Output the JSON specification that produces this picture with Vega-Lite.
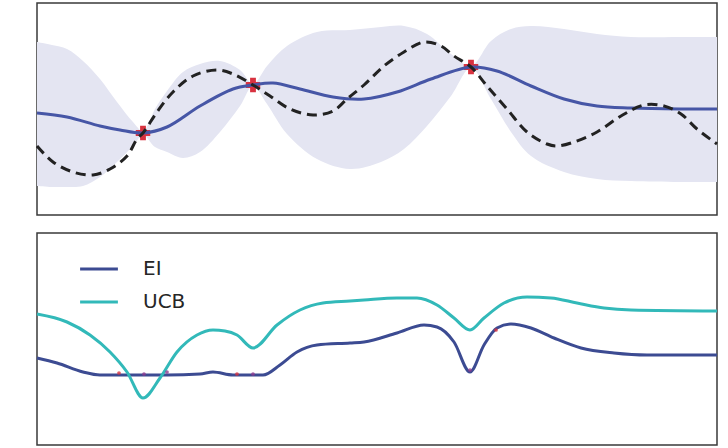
{
  "$schema": "https://vega.github.io/schema/vega-lite/v6.json",
  "padding": {"left": 30, "top": 2, "right": 8, "bottom": 2},
  "background": "white",
  "config": {
    "view": {"stroke": "#3a3a3a", "strokeWidth": 1.5},
    "font": "DejaVu Sans"
  },
  "spacing": 16,
  "datasets": {
    "band": [
      {"x": 0, "lo": 29, "hi": 173}, {"x": 15, "lo": 28, "hi": 170}, {"x": 30, "lo": 28, "hi": 166},
      {"x": 46, "lo": 29, "hi": 154}, {"x": 63, "lo": 38, "hi": 136}, {"x": 80, "lo": 53, "hi": 113},
      {"x": 96, "lo": 69, "hi": 93}, {"x": 106, "lo": 80, "hi": 84}, {"x": 118, "lo": 68, "hi": 106},
      {"x": 130, "lo": 63, "hi": 124}, {"x": 146, "lo": 57, "hi": 143}, {"x": 163, "lo": 63, "hi": 151},
      {"x": 183, "lo": 83, "hi": 154}, {"x": 203, "lo": 109, "hi": 145}, {"x": 216, "lo": 129, "hi": 131},
      {"x": 230, "lo": 111, "hi": 149}, {"x": 250, "lo": 81, "hi": 169}, {"x": 280, "lo": 56, "hi": 183},
      {"x": 313, "lo": 46, "hi": 185}, {"x": 344, "lo": 53, "hi": 188}, {"x": 367, "lo": 66, "hi": 189},
      {"x": 390, "lo": 89, "hi": 181}, {"x": 414, "lo": 119, "hi": 161}, {"x": 434, "lo": 147, "hi": 149},
      {"x": 454, "lo": 116, "hi": 174}, {"x": 474, "lo": 83, "hi": 186}, {"x": 494, "lo": 59, "hi": 189},
      {"x": 527, "lo": 43, "hi": 186}, {"x": 560, "lo": 36, "hi": 181}, {"x": 594, "lo": 34, "hi": 178},
      {"x": 643, "lo": 33, "hi": 178}, {"x": 680, "lo": 33, "hi": 178}
    ],
    "mean": [
      {"x": 0, "y": 102}, {"x": 30, "y": 98}, {"x": 63, "y": 89}, {"x": 83, "y": 85}, {"x": 106, "y": 82},
      {"x": 130, "y": 88}, {"x": 163, "y": 109}, {"x": 196, "y": 126}, {"x": 216, "y": 130}, {"x": 236, "y": 132},
      {"x": 263, "y": 126}, {"x": 296, "y": 118}, {"x": 327, "y": 116}, {"x": 360, "y": 123}, {"x": 394, "y": 136},
      {"x": 434, "y": 148}, {"x": 460, "y": 144}, {"x": 494, "y": 129}, {"x": 527, "y": 116}, {"x": 560, "y": 109},
      {"x": 594, "y": 107}, {"x": 643, "y": 106}, {"x": 680, "y": 106}
    ],
    "truth": [
      {"x": 0, "y": 69}, {"x": 16, "y": 53}, {"x": 36, "y": 43}, {"x": 56, "y": 40}, {"x": 73, "y": 46},
      {"x": 90, "y": 59}, {"x": 100, "y": 76}, {"x": 106, "y": 82}, {"x": 120, "y": 103}, {"x": 136, "y": 123},
      {"x": 156, "y": 139}, {"x": 180, "y": 145}, {"x": 196, "y": 141}, {"x": 216, "y": 130}, {"x": 233, "y": 119},
      {"x": 253, "y": 106}, {"x": 276, "y": 100}, {"x": 296, "y": 104}, {"x": 310, "y": 116}, {"x": 327, "y": 130},
      {"x": 347, "y": 149}, {"x": 367, "y": 163}, {"x": 387, "y": 173}, {"x": 404, "y": 169}, {"x": 417, "y": 159},
      {"x": 434, "y": 148}, {"x": 450, "y": 129}, {"x": 470, "y": 106}, {"x": 490, "y": 83}, {"x": 510, "y": 71},
      {"x": 520, "y": 69}, {"x": 537, "y": 73}, {"x": 560, "y": 83}, {"x": 584, "y": 99}, {"x": 607, "y": 110},
      {"x": 627, "y": 109}, {"x": 644, "y": 101}, {"x": 660, "y": 86}, {"x": 680, "y": 71}
    ],
    "obs": [
      {"x": 106, "y": 82}, {"x": 216, "y": 130}, {"x": 434, "y": 148}
    ],
    "specks": [
      {"x": 82, "y": 72, "kind": "red"}, {"x": 107, "y": 71, "kind": "purple"}, {"x": 130, "y": 73, "kind": "purple"},
      {"x": 200, "y": 71, "kind": "red"}, {"x": 216, "y": 71, "kind": "purple"}, {"x": 459, "y": 115, "kind": "red"},
      {"x": 433, "y": 75, "kind": "purple"}
    ],
    "acq": [
      {"series": "EI", "x": 0, "y": 87}, {"series": "EI", "x": 20, "y": 82}, {"series": "EI", "x": 46, "y": 73},
      {"series": "EI", "x": 63, "y": 70}, {"series": "EI", "x": 96, "y": 70}, {"series": "EI", "x": 130, "y": 70},
      {"series": "EI", "x": 163, "y": 71}, {"series": "EI", "x": 176, "y": 73}, {"series": "EI", "x": 196, "y": 70},
      {"series": "EI", "x": 226, "y": 70}, {"series": "EI", "x": 243, "y": 80}, {"series": "EI", "x": 260, "y": 93},
      {"series": "EI", "x": 280, "y": 100}, {"series": "EI", "x": 313, "y": 102}, {"series": "EI", "x": 327, "y": 103},
      {"series": "EI", "x": 360, "y": 112}, {"series": "EI", "x": 387, "y": 120}, {"series": "EI", "x": 400, "y": 118},
      {"series": "EI", "x": 417, "y": 103}, {"series": "EI", "x": 433, "y": 73}, {"series": "EI", "x": 447, "y": 100},
      {"series": "EI", "x": 460, "y": 117}, {"series": "EI", "x": 474, "y": 121}, {"series": "EI", "x": 494, "y": 117},
      {"series": "EI", "x": 517, "y": 107}, {"series": "EI", "x": 544, "y": 97}, {"series": "EI", "x": 577, "y": 92},
      {"series": "EI", "x": 610, "y": 90}, {"series": "EI", "x": 680, "y": 90},
      {"series": "UCB", "x": 0, "y": 131}, {"series": "UCB", "x": 30, "y": 123}, {"series": "UCB", "x": 53, "y": 110},
      {"series": "UCB", "x": 73, "y": 93}, {"series": "UCB", "x": 90, "y": 73}, {"series": "UCB", "x": 106, "y": 47},
      {"series": "UCB", "x": 123, "y": 67}, {"series": "UCB", "x": 140, "y": 93}, {"series": "UCB", "x": 160, "y": 110},
      {"series": "UCB", "x": 176, "y": 115}, {"series": "UCB", "x": 188, "y": 114}, {"series": "UCB", "x": 200, "y": 110},
      {"series": "UCB", "x": 216, "y": 97},
      {"series": "UCB", "x": 240, "y": 120}, {"series": "UCB", "x": 263, "y": 135}, {"series": "UCB", "x": 286, "y": 142},
      {"series": "UCB", "x": 313, "y": 144}, {"series": "UCB", "x": 327, "y": 145}, {"series": "UCB", "x": 360, "y": 147},
      {"series": "UCB", "x": 380, "y": 147}, {"series": "UCB", "x": 400, "y": 140}, {"series": "UCB", "x": 417, "y": 127},
      {"series": "UCB", "x": 433, "y": 115}, {"series": "UCB", "x": 447, "y": 127}, {"series": "UCB", "x": 467, "y": 142},
      {"series": "UCB", "x": 490, "y": 148}, {"series": "UCB", "x": 514, "y": 147}, {"series": "UCB", "x": 540, "y": 142},
      {"series": "UCB", "x": 567, "y": 137}, {"series": "UCB", "x": 594, "y": 135}, {"series": "UCB", "x": 680, "y": 134}
    ]
  },
  "vconcat": [
    {
      "width": 680,
      "height": 212,
      "layer": [
        {
          "data": {"name": "band"},
          "mark": {"type": "area", "color": "#e4e5f2", "interpolate": "catmull-rom"},
          "encoding": {
            "x": {"field": "x", "type": "quantitative", "axis": null, "scale": {"domain": [0, 680], "nice": false, "zero": false}},
            "y": {"field": "lo", "type": "quantitative", "axis": null, "scale": {"domain": [0, 212], "nice": false, "zero": false}},
            "y2": {"field": "hi"}
          }
        },
        {
          "data": {"name": "obs"},
          "mark": {"type": "point", "shape": "cross", "filled": true, "size": 210, "color": "#d8323f", "opacity": 1},
          "encoding": {
            "x": {"field": "x", "type": "quantitative", "axis": null, "scale": {"domain": [0, 680], "nice": false, "zero": false}},
            "y": {"field": "y", "type": "quantitative", "axis": null, "scale": {"domain": [0, 212], "nice": false, "zero": false}}
          }
        },
        {
          "data": {"name": "mean"},
          "mark": {"type": "line", "color": "#4656a6", "strokeWidth": 3, "interpolate": "catmull-rom"},
          "encoding": {
            "x": {"field": "x", "type": "quantitative", "axis": null, "scale": {"domain": [0, 680], "nice": false, "zero": false}},
            "y": {"field": "y", "type": "quantitative", "axis": null, "scale": {"domain": [0, 212], "nice": false, "zero": false}}
          }
        },
        {
          "data": {"name": "truth"},
          "mark": {"type": "line", "color": "#222222", "strokeWidth": 3, "strokeDash": [10, 6], "interpolate": "catmull-rom"},
          "encoding": {
            "x": {"field": "x", "type": "quantitative", "axis": null, "scale": {"domain": [0, 680], "nice": false, "zero": false}},
            "y": {"field": "y", "type": "quantitative", "axis": null, "scale": {"domain": [0, 212], "nice": false, "zero": false}}
          }
        }
      ]
    },
    {
      "width": 680,
      "height": 212,
      "layer": [
        {
          "data": {"name": "acq"},
          "mark": {"type": "line", "strokeWidth": 3, "interpolate": "monotone"},
          "encoding": {
            "x": {"field": "x", "type": "quantitative", "axis": null, "scale": {"domain": [0, 680], "nice": false, "zero": false}},
            "y": {"field": "y", "type": "quantitative", "axis": null, "scale": {"domain": [0, 212], "nice": false, "zero": false}},
            "color": {
              "field": "series",
              "type": "nominal",
              "scale": {"domain": ["EI", "UCB"], "range": ["#3c4b92", "#32b9b9"]},
              "legend": {
                "title": null,
                "orient": "none",
                "legendX": 47,
                "legendY": 251,
                "padding": 0,
                "symbolType": "M-1.4,0H1.4",
                "symbolSize": 729,
                "symbolStrokeWidth": 3,
                "labelFontSize": 20,
                "labelFont": "DejaVu Sans",
                "labelColor": "#262626",
                "labelOffset": 29,
                "rowPadding": 8
              }
            }
          }
        },
        {
          "data": {"name": "specks"},
          "mark": {"type": "point", "shape": "circle", "filled": true, "size": 14, "opacity": 0.8},
          "encoding": {
            "x": {"field": "x", "type": "quantitative", "axis": null, "scale": {"domain": [0, 680], "nice": false, "zero": false}},
            "y": {"field": "y", "type": "quantitative", "axis": null, "scale": {"domain": [0, 212], "nice": false, "zero": false}},
            "fill": {
              "field": "kind",
              "type": "nominal",
              "scale": {"domain": ["red", "purple"], "range": ["#d8323f", "#8e3a8e"]},
              "legend": null
            }
          }
        }
      ]
    }
  ]
}
